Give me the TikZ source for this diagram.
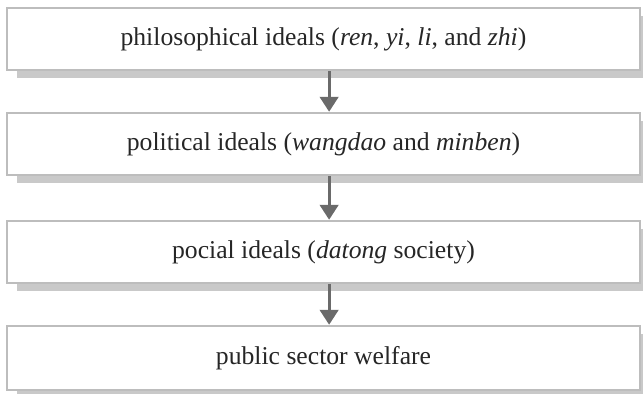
\documentclass[tikz,border=0pt]{standalone}
\usepackage{fontspec}
\setmainfont{Liberation Serif}
\usepackage{xcolor}
\usetikzlibrary{arrows.meta}
\usetikzlibrary{shadows}
\definecolor{boxline}{HTML}{BDBDBD}
\definecolor{boxshade}{HTML}{C9C9C9}
\definecolor{arrowgray}{HTML}{6A6A6A}
\tikzset{idealbox/.style={draw=boxline, line width=1.4pt, fill=white,
   minimum width=633*0.02cm, minimum height=62*0.02cm, inner sep=0pt,
   text=black!85, font=\fontsize{14.6}{17}\selectfont,
   drop shadow={shadow xshift=5.7pt, shadow yshift=-4.5pt, fill=boxshade, opacity=1}},
 flow/.style={draw=arrowgray, line width=1.7pt, -{Triangle[width=10.5pt,length=8.5pt]}},
 }

\begin{document}
\begin{tikzpicture}[x=0.02cm, y=-0.02cm]
        \useasboundingbox (0, 0) rectangle (643, 394);
        \clip (0, 0) rectangle (643, 394);
        \node[idealbox] (philo) at (323.5, 39) {philosophical ideals (\textit{ren}, \textit{yi}, \textit{li}, and \textit{zhi})};
        \node[idealbox] (polit) at (323.5, 144) {political ideals (\textit{wangdao} and \textit{minben})};
        \node[idealbox] (social) at (323.5, 252) {pocial ideals (\textit{datong} society)};
        \node[idealbox, minimum height=64*0.02cm] (welfare) at (323.5, 358) {public sector welfare};
        \draw[flow] ([xshift=3.2pt]philo.south) -- ([xshift=3.2pt]polit.north);
        \draw[flow] ([xshift=3.2pt]polit.south) -- ([xshift=3.2pt]social.north);
        \draw[flow] ([xshift=3.2pt]social.south) -- ([xshift=3.2pt]welfare.north);
    \end{tikzpicture}
\end{document}
